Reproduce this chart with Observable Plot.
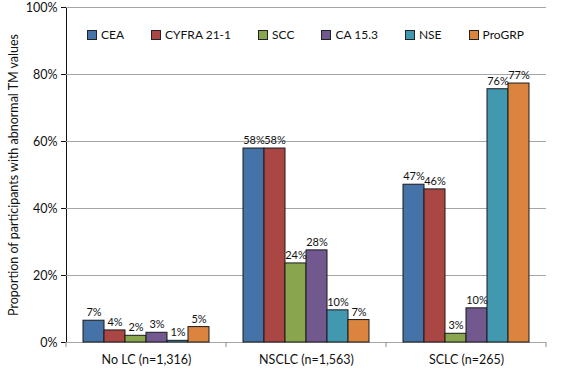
<!DOCTYPE html>
<html><head><meta charset="utf-8">
<script src="https://cdn.jsdelivr.net/npm/d3@7"></script>
<script src="https://cdn.jsdelivr.net/npm/@observablehq/plot@0.6"></script>
<style>
body{margin:0;background:#fff;}
#wrap{position:relative;width:579px;height:385px;font-family:Lato,"Open Sans",sans-serif;}
#legend{position:absolute;left:87px;top:27px;display:flex;gap:27px;font-size:12px;color:#111;}
#legend .item{display:flex;align-items:center;}
#legend .sw{width:8px;height:8px;border:1px solid #222;margin-right:4px;}
</style></head>
<body><div id="wrap"><div id="legend"></div></div>
<script>
const groups = ["No LC (n=1,316)", "NSCLC (n=1,563)", "SCLC (n=265)"];
const markers = ["CEA", "CYFRA 21-1", "SCC", "CA 15.3", "NSE", "ProGRP"];
const colors = ["#4572A7", "#AA4643", "#89A54E", "#71588F", "#4198AF", "#DB843D"];
const noLC  = [6.5, 3.6, 2.0, 2.9, 0.5, 4.6];
const nsclc = [57.9, 57.9, 23.6, 27.5, 9.6, 6.7];
const sclc  = [47.1, 45.7, 2.6, 10.2, 75.6, 77.3];
const yTicks = [0, 20, 40, 60, 80, 100];
const yLabel = "Proportion of participants with abnormal TM values";

const series = [noLC, nsclc, sclc];
const data = groups.flatMap((g, i) => markers.map((m, j) => ({group: g, marker: m, value: series[i][j]})));

const chart = Plot.plot({
  width: 579, height: 385,
  marginLeft: 65, marginRight: 33, marginTop: 7, marginBottom: 43,
  style: {fontFamily: "Lato, 'Open Sans', sans-serif", fontSize: "12.5px", color: "#111", background: "white", overflow: "visible"},
  facet: {data, x: "group"},
  fx: {domain: groups, padding: 0, label: null, tickSize: 0, tickPadding: 13, axis: "bottom"},
  x: {domain: markers, axis: null, paddingInner: 0, paddingOuter: 0.78},
  y: {domain: [0, 100], ticks: yTicks, tickFormat: d => d + "%", label: yLabel, labelAnchor: "center", labelOffset: 57, line: true, tickSize: 5},
  color: {domain: markers, range: colors},
  marks: [
    Plot.ruleY(yTicks, {stroke: "#a6a6a6"}),
    Plot.barY(data, {x: "marker", y: "value", fill: "marker", stroke: "#1a1a1a", strokeWidth: 1}),
    Plot.text(data, {x: "marker", y: "value", text: d => Math.round(d.value) + "%", dy: -8, fontSize: 11, fill: "#111"})
  ]
});
document.getElementById("wrap").prepend(chart);

const svg = d3.select(chart);
svg.selectAll("[aria-label='y-axis'] line, [aria-label='y-axis'] path").attr("stroke", "#8c8c8c");
svg.selectAll("text, tspan").each(function() {
  if (this.childElementCount) return;
  const s = this.textContent;
  if (/[↑→↓←]/.test(s)) this.textContent = s.replace(/\s*[↑→↓←]\s*/g, "");
});
const fx = chart.scale("fx"), y = chart.scale("y");
const y0 = y.apply(0);
const edges = [...groups.map(g => fx.apply(g)), fx.apply(groups[groups.length - 1]) + fx.bandwidth];
svg.append("g").selectAll("line").data(edges).join("line")
  .attr("x1", d => d).attr("x2", d => d).attr("y1", y0).attr("y2", y0 + 5)
  .attr("stroke", "#8c8c8c");

const legend = d3.select("#legend");
markers.forEach((m, i) => {
  const it = legend.append("div").attr("class", "item");
  it.append("div").attr("class", "sw").style("background", colors[i]);
  it.append("span").text(m);
});
</script></body></html>
